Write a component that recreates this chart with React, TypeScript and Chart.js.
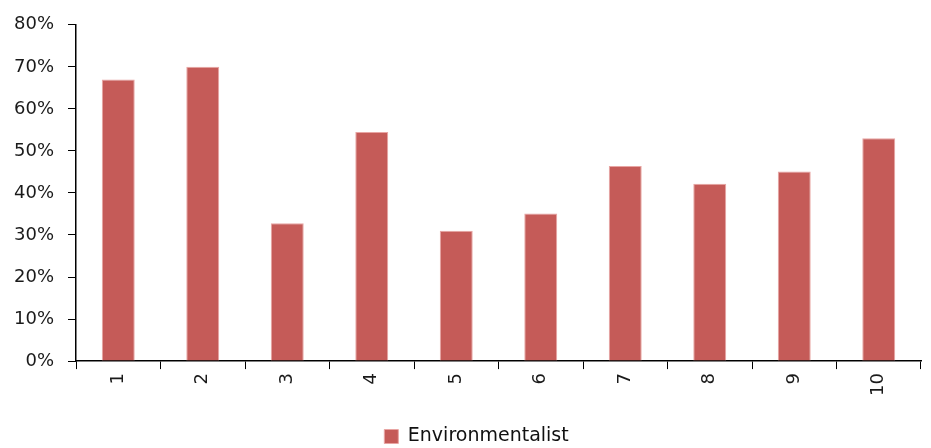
import React, { useEffect, useRef } from "react";
import { Chart, registerables } from "chart.js";

Chart.register(...registerables);

const categories = ["1", "2", "3", "4", "5", "6", "7", "8", "9", "10"];
const environmentalist = [0.67, 0.70, 0.328, 0.545, 0.31, 0.351, 0.464, 0.422, 0.451, 0.53];
const seriesLabel = "Environmentalist";

const FONT = "'DejaVu Sans', sans-serif";

const legendShift = {
  id: "legendShift",
  afterLayout(chart: any) {
    if (chart.legend) {
      chart.legend.top += 8;
      chart.legend.bottom += 8;
      chart.legend.left += 16;
      chart.legend.right += 16;
    }
  },
};

export default function App() {
  const ref = useRef<HTMLCanvasElement | null>(null);
  useEffect(() => {
    document.body.style.margin = "0";
    if (!ref.current) return;
    const chart = new Chart(ref.current, {
      type: "bar",
      data: {
        labels: categories,
        datasets: [
          {
            label: seriesLabel,
            data: environmentalist,
            backgroundColor: "#C55B58",
            borderColor: "#E8A5A3",
            borderWidth: 1,
            categoryPercentage: 1,
            barPercentage: 0.39,
          },
        ],
      },
      options: {
        responsive: false,
        animation: false,
        layout: { padding: { left: 0, right: 10, top: 0, bottom: 0 } },
        scales: {
          x: {
            afterFit: (scale: any) => {
              scale.height += 15;
            },
            grid: {
              display: true,
              drawOnChartArea: false,
              offset: true,
              tickLength: 8,
              color: "#000",
            },
            border: { color: "#000", width: 1.5 },
            ticks: {
              minRotation: 90,
              maxRotation: 90,
              color: "#1a1a1a",
              font: { family: FONT, size: 18 },
              padding: 4,
            },
          },
          y: {
            min: 0,
            max: 0.8,
            grid: {
              display: true,
              drawOnChartArea: false,
              tickLength: 8,
              color: "#000",
            },
            border: { color: "#000", width: 1.5 },
            ticks: {
              stepSize: 0.1,
              color: "#1a1a1a",
              font: { family: FONT, size: 18 },
              padding: 14,
              callback: (v: any) => Math.round(Number(v) * 100) + "%",
            },
          },
        },
        plugins: {
          legend: {
            position: "bottom",
            labels: {
              boxWidth: 14,
              boxHeight: 14,
              color: "#111",
              font: { family: FONT, size: 19 },
              padding: 4,
            },
          },
          tooltip: { enabled: false },
        },
      },
      plugins: [legendShift],
    });
    return () => chart.destroy();
  }, []);
  return (
    <div style={{ position: "absolute", left: 0, top: 0, width: 931, height: 448, background: "#fff" }}>
      <canvas ref={ref} width={931} height={448} />
    </div>
  );
}
